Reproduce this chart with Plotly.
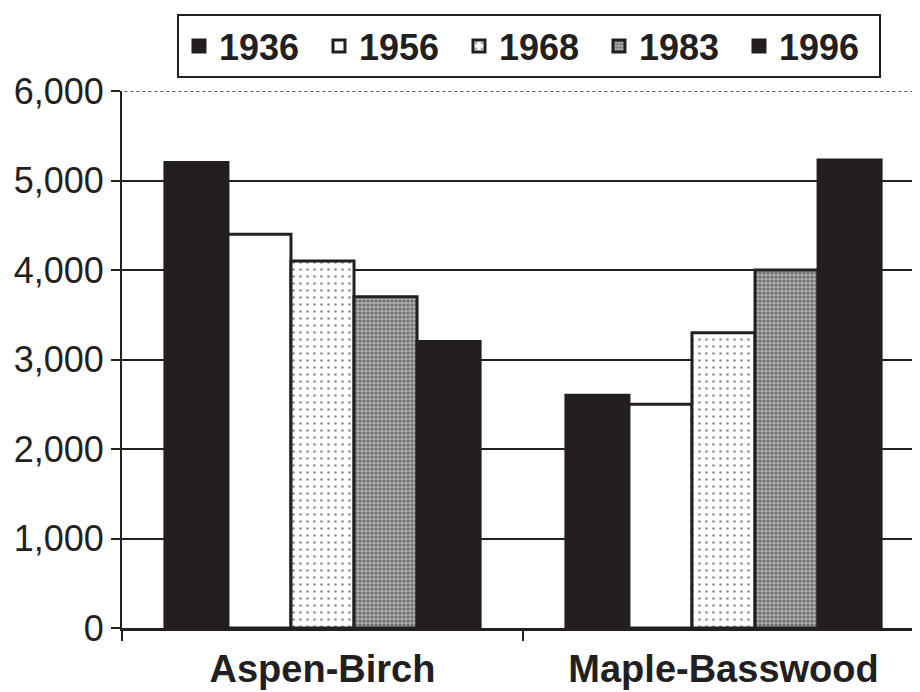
import plotly.graph_objects as go

# ---- data ----
categories = ["Aspen-Birch", "Maple-Basswood"]
years = ["1936", "1956", "1968", "1983", "1996"]
v1936 = [5200, 2600]
v1956 = [4400, 2500]
v1968 = [4100, 3300]
v1983 = [3700, 4000]
v1996 = [3200, 5230]
y_ticks = [0, 1000, 2000, 3000, 4000, 5000, 6000]

series = [v1936, v1956, v1968, v1983, v1996]

INK = "#231f20"
FONT = "Liberation Sans, Arial, sans-serif"

styles = {
    "1936": dict(color=INK),
    "1956": dict(color="white"),
    "1968": dict(color="white",
                 pattern=dict(shape=".", fgcolor=INK, bgcolor="white",
                              size=7, solidity=0.12)),
    "1983": dict(color="#808080",
                 pattern=dict(shape=".", fgcolor="#333333", bgcolor="#ababab",
                              size=4, solidity=0.5)),
    "1996": dict(color=INK),
}

fig = go.Figure()
for yr, vals in zip(years, series):
    st = styles[yr]
    marker = dict(color=st["color"], line=dict(color=INK, width=3))
    if "pattern" in st:
        marker["pattern"] = st["pattern"]
    fig.add_trace(go.Bar(name=yr, x=categories, y=vals, marker=marker))

# page body keeps an 8px margin, so the figure is 912x684 and sits at (8, 8)
fig.update_layout(
    width=912, height=684,
    margin=dict(l=114, r=0, t=83, b=64, autoexpand=False),
    paper_bgcolor="white", plot_bgcolor="white",
    barmode="group", bargap=0.214, bargroupgap=0,
    font=dict(family=FONT, color=INK, size=36),
    showlegend=True,
    legend=dict(
        orientation="h", x=0.0689, y=1.1434, xanchor="left", yanchor="top",
        bordercolor=INK, borderwidth=2, bgcolor="white",
        font=dict(family=FONT, size=36, weight=700, color=INK),
        entrywidth=95, traceorder="normal",
    ),
    xaxis=dict(
        type="category", range=[-0.5, 1.49], automargin=False,
        showline=True, linecolor=INK, linewidth=3,
        ticks="outside", tickson="boundaries", ticklen=10, tickwidth=2,
        tickcolor=INK, showgrid=False, ticklabelstandoff=5,
        tickfont=dict(family=FONT, size=38, weight=700, color=INK),
    ),
    yaxis=dict(
        range=[0, 6000], tickvals=y_ticks, tickformat=",", automargin=False,
        showgrid=True, gridcolor=INK, gridwidth=2, zeroline=False,
        showline=True, linecolor=INK, linewidth=2,
        ticks="outside", ticklen=9, tickwidth=2, tickcolor=INK,
        tickfont=dict(family=FONT, size=36, color=INK),
    ),
    shapes=[
        dict(type="line", xref="paper", x0=0.003, x1=1, yref="y",
             y0=y_ticks[-1], y1=y_ticks[-1],
             line=dict(color="white", width=3), layer="above"),
        dict(type="line", xref="paper", x0=0.003, x1=1, yref="y",
             y0=y_ticks[-1], y1=y_ticks[-1],
             line=dict(color=INK, width=1.5, dash="dot"), layer="above"),
    ],
)

fig.write_html("out.html")
